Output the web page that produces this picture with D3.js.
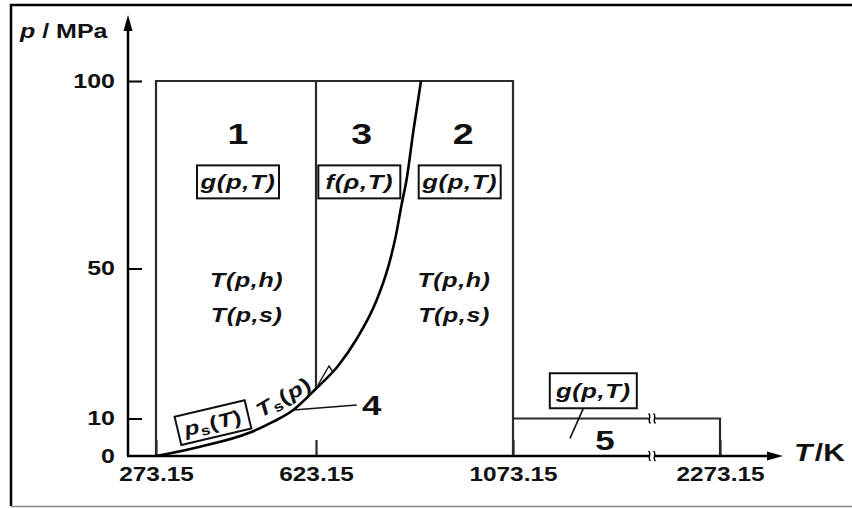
<!DOCTYPE html>
<html><head><meta charset="utf-8">
<script src="https://cdn.jsdelivr.net/npm/d3@7/dist/d3.min.js"></script>
<style>
body{margin:0;background:#fff}
svg{display:block}
text{font-family:"Liberation Sans",Arial,Helvetica,sans-serif;fill:#111}
</style>
</head><body>
<svg id="c" width="852" height="508"></svg>
<script>
// ---------------- data ----------------
const xTicks = [273.15, 623.15, 1073.15, 2273.15];
const xTickLabels = ["273.15", "623.15", "1073.15", "2273.15"];
const yTicks = [0, 10, 50, 100];
const yTickLabels = ["0", "10", "50", "100"];

// saturation line + B23 boundary (T in K, p in MPa)
const curveT = [273.15, 296.6, 369.4, 478.8, 529.7, 573.5, 624.7, 673.4, 714.5, 761.8, 788.3, 805.9, 818.5, 829.9, 845.9, 863.0];
const curveP = [0, 0.53, 2.48, 6.27, 9.15, 12.27, 18.13, 24.0, 30.93, 41.6, 50.48, 58.93, 66.93, 73.6, 86.93, 100];

// region boundaries
const regionT = [273.15, 623.15, 1073.15, 2273.15];
const regionPMax = 100;
const region5PMax = 10;
const region13PBottom = 18.1;
const breakT = 1879;

// region labels
const regionNames = ["1", "3", "2"];
const regionNameT = [452.5, 727.5, 959.6];
const regionNameP = 86.1;
const funcLabels = ["g(p,T)", "f(ρ,T)", "g(p,T)"];
const funcT = [452.5, 722.1, 951.4];
const funcP = 73.1;
const backT = [471.5, 938.4];
const backLabels = ["T(p,h)", "T(p,s)"];
const backP = [47.0, 37.6];

// ---------------- layout ----------------
const svg = d3.select("#c");
const x = d3.scaleLinear().domain(xTicks).range([156, 316, 513, 720]);
const y = d3.scaleLinear().domain([0, 100]).range([456, 81]);
const axisX0 = 128, axisXEnd = 783, axisYTop = 15;
const SX = 1.25; // horizontal stretch of the lettering

function stretched(sel) {
  sel.each(function () {
    const t = d3.select(this);
    const tx = +t.attr("data-x"), ty = +t.attr("data-y");
    t.attr("transform", `translate(${tx},${ty}) scale(${SX},1)`);
  });
}

// frame
svg.append("path").attr("d", "M852,5H11V506").attr("fill", "none").attr("stroke", "#000").attr("stroke-width", 2.5);
svg.append("path").attr("d", "M11,506.5H852").attr("stroke", "#888").attr("stroke-width", 1.5);

const lineCol = "#2a2a2a";
// region boundaries
const g = svg.append("g").attr("fill", "none").attr("stroke", lineCol).attr("stroke-width", 2.2);
g.append("path").attr("d", `M${x(regionT[0])},${y(0)}V${y(regionPMax)}H${x(regionT[2])}V${y(0)}`);
g.append("path").attr("d", `M${x(regionT[1])},${y(regionPMax)}V${y(region13PBottom)}`);
g.append("path").attr("d", `M${x(regionT[2])},${y(region5PMax)}H${x(regionT[3])}V${y(0)}`);

// saturation / boundary curve
const curvePts = curveT.map((t, i) => [t, curveP[i]]);
svg.append("path")
  .attr("d", d3.line().x(d => x(d[0])).y(d => y(d[1])).curve(d3.curveMonotoneX)(curvePts))
  .attr("fill", "none").attr("stroke", "#000").attr("stroke-width", 2.6);

// axes
const yAxis = d3.axisLeft(y).tickValues(yTicks).tickSize(-14).tickPadding(13 / SX)
  .tickFormat((d, i) => yTickLabels[i]);
const ya = svg.append("g").attr("transform", `translate(${axisX0},0)`).call(yAxis);
ya.select(".domain").remove();
ya.selectAll(".tick line").attr("stroke", "#000").attr("stroke-width", 2).filter(d => d === 0).remove();
ya.selectAll(".tick text").attr("font-size", 20).attr("font-weight", "bold").attr("fill", "#111")
  .attr("font-family", '"Liberation Sans",Arial,sans-serif')
  .attr("transform", `scale(${SX},1)`);

const xAxis = d3.axisBottom(x).tickValues(xTicks).tickSize(-16).tickPadding(11)
  .tickFormat((d, i) => xTickLabels[i]);
const xa = svg.append("g").attr("transform", `translate(0,${y(0)})`).call(xAxis);
xa.select(".domain").remove();
xa.selectAll(".tick line").attr("stroke", lineCol).attr("stroke-width", 2.2);
xa.selectAll(".tick text").attr("font-size", 19.5).attr("font-weight", "bold").attr("fill", "#111")
  .attr("font-family", '"Liberation Sans",Arial,sans-serif')
  .attr("transform", `scale(${SX},1)`);

// axis lines + arrows
svg.append("path").attr("d", `M${axisX0},${y(0)}V${axisYTop + 10}`).attr("stroke", "#000").attr("stroke-width", 2.5);
svg.append("path").attr("d", `M${axisX0},${axisYTop}l-4.5,16h9z`).attr("fill", "#000");
svg.append("path").attr("d", `M${axisX0 - 1},${y(0)}H${axisXEnd - 10}`).attr("stroke", "#000").attr("stroke-width", 2.5);
svg.append("path").attr("d", `M${axisXEnd},${y(0)}l-16,-4.5v9z`).attr("fill", "#000");

// axis break marks
[region5PMax, 0].forEach(p => {
  const bx = x(breakT), by = y(p);
  svg.append("rect").attr("x", bx - 3).attr("y", by - 3).attr("width", 6).attr("height", 6).attr("fill", "#fff");
  [-2.5, 2.5].forEach(dx => {
    svg.append("path").attr("d", `M${bx + dx - 1},${by - 5}C${bx + dx + 3},${by - 2} ${bx + dx - 3},${by + 2} ${bx + dx + 1},${by + 5}`)
      .attr("fill", "none").attr("stroke", "#000").attr("stroke-width", 1.3);
  });
});

// axis titles
const yt = svg.append("text").attr("data-x", 20).attr("data-y", 38).attr("font-size", 20).attr("font-weight", "bold");
yt.append("tspan").attr("font-style", "italic").text("p");
yt.append("tspan").text(" / MPa");
const xt = svg.append("text").attr("data-x", 794).attr("data-y", 461).attr("font-size", 24).attr("font-weight", "bold");
xt.append("tspan").attr("font-style", "italic").text("T");
xt.append("tspan").text("/K").attr("dx", 2);
stretched(svg.selectAll("text[data-x]"));

// helper for labels
function label(T, p, parts, opts) {
  const o = Object.assign({ size: 20, rot: 0, box: null, weight: "bold", italic: false, ls: 0 }, opts);
  const grp = svg.append("g").attr("transform", `translate(${x(T)},${y(p)}) rotate(${o.rot})`);
  if (o.box) {
    grp.append("rect").attr("x", -o.box[0] / 2).attr("y", -o.box[1] / 2)
      .attr("width", o.box[0]).attr("height", o.box[1])
      .attr("fill", "#fff").attr("stroke", "#111").attr("stroke-width", 2);
  }
  const t = grp.append("text").attr("text-anchor", "middle").attr("dy", "0.36em")
    .attr("font-size", o.size).attr("font-weight", o.weight).attr("letter-spacing", o.ls)
    .attr("transform", `scale(${SX},1)`);
  if (o.italic) t.attr("font-style", "italic");
  parts.forEach(pt => {
    const ts = t.append("tspan").text(pt.t);
    if (pt.sub) ts.attr("font-size", o.size * 0.7).attr("baseline-shift", "-25%");
    if (pt.it !== undefined) ts.attr("font-style", pt.it ? "italic" : "normal");
  });
  return grp;
}

// region numbers
regionNames.forEach((n, i) => label(regionNameT[i], regionNameP, [{ t: n }], { size: 30 }));
// function boxes
funcLabels.forEach((f, i) => label(funcT[i], funcP, [{ t: f }], { size: 20.5, italic: true, box: [82, 33], ls: 0.5 }));
// backward equations
[0, 1].forEach(i => backLabels.forEach((b, j) =>
  label(backT[i], backP[j], [{ t: b }], { size: 20, italic: true, ls: 0.5 })));

// region 4 annotations
label(397.8, 8.9, [{ t: "p", it: true }, { t: "s", sub: true }, { t: "(" }, { t: "T", it: true }, { t: ")" }],
  { size: 19.5, rot: -13.4, box: [72, 29], ls: 0.5 });
label(551.6, 15.8, [{ t: "T", it: true }, { t: "s", sub: true }, { t: "(" }, { t: "p", it: true }, { t: ")" }],
  { size: 20, rot: -30, ls: 0.5 });
svg.append("path").attr("d", `M${x(573.5)},${y(12.27)}L${x(716.1)},${y(13.6)}`).attr("stroke", "#111").attr("stroke-width", 1.6);
label(750.4, 13.6, [{ t: "4" }], { size: 28 });
// small B23 arrow near critical point
svg.append("path").attr("d", `M${x(627.7)},${y(18.93)}L${x(652.8)},${y(24.0)}L${x(662)},${y(22.4)}`)
  .attr("fill", "none").attr("stroke", "#111").attr("stroke-width", 1.4);

// region 5
label(1538.7, 17.4, [{ t: "g(p,T)" }], { size: 20.5, italic: true, box: [87, 35], ls: 0.5 });
svg.append("path").attr("d", `M${x(1480.7)},${y(12.7)}L${x(1403.6)},${y(4.7)}`).attr("stroke", "#111").attr("stroke-width", 1.6);
label(1606.5, 4.3, [{ t: "5" }], { size: 28 });
</script>
</body></html>
